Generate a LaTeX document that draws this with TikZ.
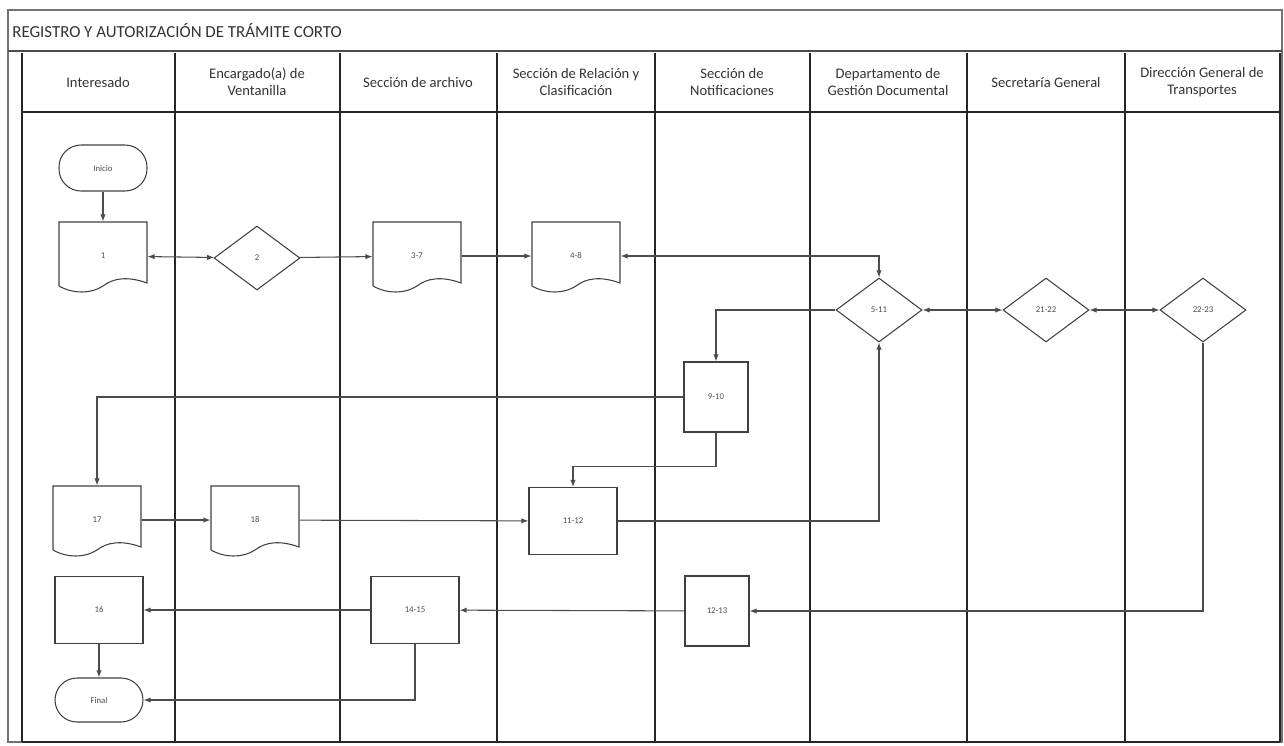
\documentclass[tikz,border=0pt]{standalone}
\usepackage{fontspec}
\setmainfont{Carlito}
\usetikzlibrary{shapes.geometric,arrows.meta}

\begin{document}
\begin{tikzpicture}[
    x=0.02cm, y=-0.02cm,
    >={Latex[length=4pt,width=3pt]},
    lane/.style={line width=1.1pt, draw=black!85},
    head/.style={align=center, font=\fontsize{8.3}{9.8}\selectfont, text=black!80},
    shp/.style={draw=black!75, line width=0.6pt, font=\fontsize{5}{6}\selectfont, text=black!70, inner sep=0pt},
    term/.style={shp, rounded corners=0.44cm, minimum width=1.76cm, minimum height=0.92cm},
    proc/.style={shp, minimum width=1.76cm, minimum height=1.34cm},
    notif/.style={proc, minimum width=1.28cm, minimum height=1.4cm},
    dec/.style={shp, diamond, minimum width=1.72cm, minimum height=1.28cm},
    doc/.style={shp, draw=none, minimum width=1.76cm, minimum height=1.36cm,
        append after command={\pgfextra{
            \draw[draw=black!75, line width=0.6pt, shift={(\tikzlastnode.center)}]
                (-44,30) -- (-44,-34) -- (44,-34) -- (44,27)
                .. controls (25,20) and (10,22) .. (0,30)
                .. controls (-12,38) and (-30,38) .. (-44,30);
        }}},
    arr/.style={->, line width=0.6pt, draw=black!70},
    arrb/.style={<->, line width=0.6pt, draw=black!70}
]
    \useasboundingbox (0,0) rectangle (1284,745);

    % marco y titulo
    \draw[draw=black!55, line width=0.6pt] (8,10) rectangle (1282,742);
    \draw[draw=black!70, line width=0.8pt] (8,51) -- (1282,51);
    \node[anchor=west, inner sep=0pt, font=\fontsize{9.6}{11}\selectfont, text=black!80] (titulo) at (12,31)
        {REGISTRO Y AUTORIZACIÓN DE TRÁMITE CORTO};

    % carriles
    \draw[lane] (22,112) -- (1280,112);
    \draw[lane] (22,742) -- (1280,742);
    \foreach \x in {22,175,340,497,655,810,967,1125,1280}
        \draw[lane] (\x,53) -- (\x,742);

    \node[head] (h1) at (98,82) {Interesado};
    \node[head] (h2) at (257,82) {Encargado(a) de\\Ventanilla};
    \node[head] (h3) at (418,82) {Sección de archivo};
    \node[head] (h4) at (576,82) {Sección de Relación y\\Clasificación};
    \node[head] (h5) at (732,82) {Sección de\\Notificaciones};
    \node[head] (h6) at (888,82) {Departamento de\\Gestión Documental};
    \node[head] (h7) at (1046,82) {Secretaría General};
    \node[head] (h8) at (1202,82) {Dirección General de\\Transportes};

    % pasos
    \node[term] (ini) at (103,168) {Inicio};
    \node[doc] (d1) at (103,256) {1};
    \node[dec] (r2) at (257,258) {2};
    \node[doc] (d3) at (417,256) {3-7};
    \node[doc] (d4) at (576,256) {4-8};
    \node[dec] (r5) at (879,310) {5-11};
    \node[dec] (r6) at (1046,310) {21-22};
    \node[dec] (r7) at (1203,310) {22-23};
    \node[notif] (n9) at (716,397) {9-10};
    \node[doc] (d17) at (97,520) {17};
    \node[doc] (d18) at (255,520) {18};
    \node[proc] (b11) at (573,521) {11-12};
    \node[proc] (b16) at (99,610) {16};
    \node[proc] (b14) at (415,610) {14-15};
    \node[notif] (b12) at (717,611) {12-13};
    \node[term, minimum height=0.88cm] (fin) at (99,700) {Final};

    % flujo
    \draw[arr] (ini) -- (d1);
    \draw[arrb] (d1) -- (r2);
    \draw[arr] (r2) -- (d3);
    \draw[arr] (d3) -- (d4);
    \draw[arrb] (d4.east) -| (r5.north);
    \draw[arrb] (r5) -- (r6);
    \draw[arrb] (r6) -- (r7);
    \draw[arr] (r5.west) -| (n9.north);
    \draw[arr] (n9.west) -| (d17.north);
    \draw[arr] (n9.south) -- ++(0,34) -| (b11.north);
    \draw[arr] (d17) -- (d18);
    \draw[arr] (d18) -- (b11);
    \draw[arr] (b11.east) -| (r5.south);
    \draw[arr] (r7.south) |- (b12.east);
    \draw[arr] (b12) -- (b14);
    \draw[arr] (b14) -- (b16);
    \draw[arr] (b16) -- (fin);
    \draw[arr] (b14.south) |- (fin.east);
\end{tikzpicture}
\end{document}
